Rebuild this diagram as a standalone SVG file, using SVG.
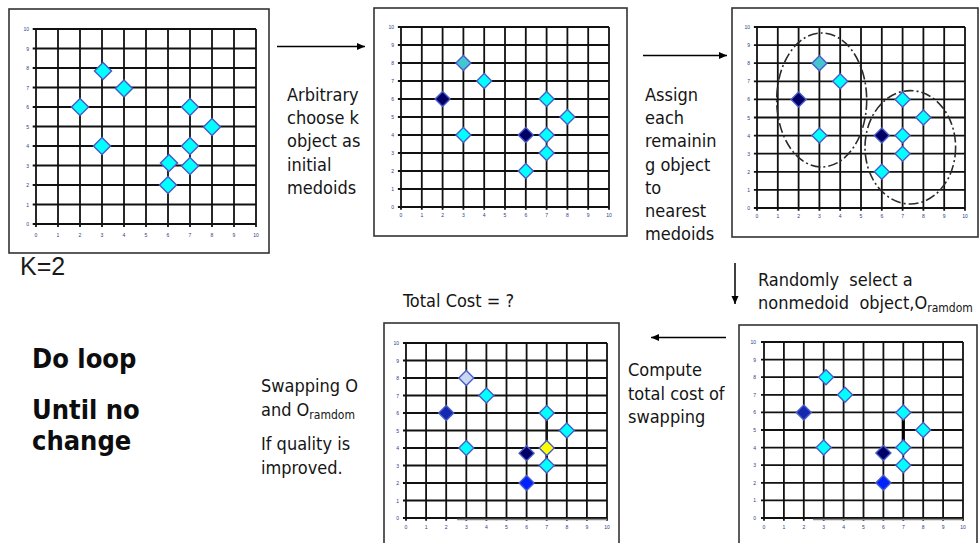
<svg xmlns="http://www.w3.org/2000/svg" xmlns:xlink="http://www.w3.org/1999/xlink" width="979" height="543" viewBox="0 0 979 543">
  <style>
    .frame { fill: #ffffff; stroke: #333333; stroke-width: 1.6; }
    .tick { font-family: "Liberation Sans", Arial, sans-serif; font-size: 5px; fill: #2a3a8a; }
    .tx { text-anchor: middle; }
    .ty { text-anchor: end; }
    .lbl { font-family: "DejaVu Sans Condensed", "DejaVu Sans", sans-serif; font-stretch: condensed; font-size: 18px; fill: #151515; }
    .sub { font-size: 12px; }
    .big { font-family: "DejaVu Sans Condensed", "DejaVu Sans", sans-serif; font-stretch: condensed; font-weight: bold; font-size: 27px; fill: #0d0d0d; }
    .k { font-family: "Liberation Sans", Arial, sans-serif; font-size: 25px; fill: #1a1a1a; }
    .cy { fill: #00ffff; }
    .nv { fill: #000066; }
    .tl { fill: #44c6cf; }
    .bl { fill: #1428b0; }
    .br { fill: #0022ff; }
    .lt { fill: #c9d8ee; }
    .yl { fill: #ffff00; }
    .conn { stroke: #000000; stroke-width: 1.5; fill: none; }
    .clus { fill: none; stroke: #2a2a2a; stroke-width: 1.6; stroke-dasharray: 10 3 2 3; }
  </style>
  <defs>
    <!-- 10x10 chart grid in unit coordinates, y pointing up; ticks stick out past the axes -->
    <path id="grid" d="M0,-0.15V10M1,-0.15V10M2,-0.15V10M3,-0.15V10M4,-0.15V10M5,-0.15V10M6,-0.15V10M7,-0.15V10M8,-0.15V10M9,-0.15V10M10,-0.15V10M-0.15,0H10M-0.15,1H10M-0.15,2H10M-0.15,3H10M-0.15,4H10M-0.15,5H10M-0.15,6H10M-0.15,7H10M-0.15,8H10M-0.15,9H10M-0.15,10H10" fill="none" stroke="#111111" stroke-width="1.8" vector-effect="non-scaling-stroke"/>
    <path id="dm" d="M0,-7.5L7.5,0L0,7.5L-7.5,0Z" stroke="#4a5cc8" stroke-width="1.4"/>
    <path id="dmL" d="M0,-8.5L8.5,0L0,8.5L-8.5,0Z" stroke="#4a5cc8" stroke-width="1.5"/>
    <marker id="ah" markerUnits="userSpaceOnUse" markerWidth="9" markerHeight="8" refX="8" refY="4" orient="auto">
      <path d="M0,0.5L8,4L0,7.5Z" fill="#000000"/>
    </marker>
  </defs>

  <!-- chart 1: the raw data set -->
  <g id="chart-data">
    <rect class="frame" x="9" y="9" width="260" height="244" stroke-width="2" stroke="#111"/>
    <use xlink:href="#grid" transform="translate(36,224) scale(22,-19.5)"/>
    <g class="tick tx">
      <text x="36" y="237">0</text><text x="58" y="237">1</text><text x="80" y="237">2</text><text x="102" y="237">3</text><text x="124" y="237">4</text><text x="146" y="237">5</text><text x="168" y="237">6</text><text x="190" y="237">7</text><text x="212" y="237">8</text><text x="234" y="237">9</text><text x="256" y="237">10</text>
    </g>
    <g class="tick ty">
      <text x="29" y="226">0</text><text x="29" y="206.5">1</text><text x="29" y="187">2</text><text x="29" y="167.5">3</text><text x="29" y="148">4</text><text x="29" y="128.5">5</text><text x="29" y="109">6</text><text x="29" y="89.5">7</text><text x="29" y="70">8</text><text x="29" y="50.5">9</text><text x="29" y="31">10</text>
    </g>
    <use xlink:href="#dmL" class="cy" x="103" y="71"/>
    <use xlink:href="#dmL" class="cy" x="124" y="88.5"/>
    <use xlink:href="#dmL" class="cy" x="80" y="107"/>
    <use xlink:href="#dmL" class="cy" x="102" y="146"/>
    <use xlink:href="#dmL" class="cy" x="190" y="107"/>
    <use xlink:href="#dmL" class="cy" x="212" y="127"/>
    <use xlink:href="#dmL" class="cy" x="190" y="146"/>
    <use xlink:href="#dmL" class="cy" x="169" y="163"/>
    <use xlink:href="#dmL" class="cy" x="190" y="166"/>
    <use xlink:href="#dmL" class="cy" x="168" y="185"/>
  </g>
  <text class="k" x="20" y="275">K=2</text>

  <!-- chart 2: two medoids picked -->
  <g id="chart-init">
    <rect class="frame" x="374" y="8" width="253" height="228"/>
    <use xlink:href="#grid" transform="translate(401,207) scale(20.8,-18)"/>
    <g class="tick tx">
      <text x="401" y="217">0</text><text x="421.8" y="217">1</text><text x="442.6" y="217">2</text><text x="463.4" y="217">3</text><text x="484.2" y="217">4</text><text x="505" y="217">5</text><text x="525.8" y="217">6</text><text x="546.6" y="217">7</text><text x="567.4" y="217">8</text><text x="588.2" y="217">9</text><text x="609" y="217">10</text>
    </g>
    <g class="tick ty">
      <text x="394" y="209">0</text><text x="394" y="191">1</text><text x="394" y="173">2</text><text x="394" y="155">3</text><text x="394" y="137">4</text><text x="394" y="119">5</text><text x="394" y="101">6</text><text x="394" y="83">7</text><text x="394" y="65">8</text><text x="394" y="47">9</text><text x="394" y="29">10</text>
    </g>
    <use xlink:href="#dm" class="nv" x="442.6" y="99"/>
    <use xlink:href="#dm" class="tl" x="463.4" y="63"/>
    <use xlink:href="#dm" class="cy" x="484.2" y="81"/>
    <use xlink:href="#dm" class="cy" x="463.4" y="135"/>
    <use xlink:href="#dm" class="nv" x="525.8" y="135"/>
    <use xlink:href="#dm" class="cy" x="546.6" y="99"/>
    <use xlink:href="#dm" class="cy" x="567.4" y="117"/>
    <use xlink:href="#dm" class="cy" x="546.6" y="135"/>
    <use xlink:href="#dm" class="cy" x="546.6" y="153"/>
    <use xlink:href="#dm" class="cy" x="525.8" y="171"/>
  </g>

  <!-- chart 3: objects assigned to the nearest medoid -->
  <g id="chart-assign">
    <rect class="frame" x="732" y="8" width="246" height="229"/>
    <use xlink:href="#grid" transform="translate(757,208) scale(20.8,-18.1)"/>
    <g class="tick tx">
      <text x="757" y="218">0</text><text x="777.8" y="218">1</text><text x="798.6" y="218">2</text><text x="819.4" y="218">3</text><text x="840.2" y="218">4</text><text x="861" y="218">5</text><text x="881.8" y="218">6</text><text x="902.6" y="218">7</text><text x="923.4" y="218">8</text><text x="944.2" y="218">9</text><text x="965" y="218">10</text>
    </g>
    <g class="tick ty">
      <text x="750" y="210">0</text><text x="750" y="191.9">1</text><text x="750" y="173.8">2</text><text x="750" y="155.7">3</text><text x="750" y="137.6">4</text><text x="750" y="119.5">5</text><text x="750" y="101.4">6</text><text x="750" y="83.3">7</text><text x="750" y="65.2">8</text><text x="750" y="47.1">9</text><text x="750" y="29">10</text>
    </g>
    <ellipse class="clus" cx="821.7" cy="100" rx="45" ry="67"/>
    <ellipse class="clus" cx="910.3" cy="147.3" rx="45.3" ry="56.7"/>
    <use xlink:href="#dm" class="nv" x="798.6" y="99.4"/>
    <use xlink:href="#dm" class="tl" x="819.4" y="63.2"/>
    <use xlink:href="#dm" class="cy" x="840.2" y="81.3"/>
    <use xlink:href="#dm" class="cy" x="819.4" y="135.6"/>
    <use xlink:href="#dm" class="nv" x="881.8" y="135.6"/>
    <use xlink:href="#dm" class="cy" x="902.6" y="99.4"/>
    <use xlink:href="#dm" class="cy" x="923.4" y="117.5"/>
    <use xlink:href="#dm" class="cy" x="902.6" y="135.6"/>
    <use xlink:href="#dm" class="cy" x="902.6" y="153.7"/>
    <use xlink:href="#dm" class="cy" x="881.8" y="171.8"/>
  </g>

  <!-- chart 4: a random non-medoid chosen -->
  <g id="chart-random">
    <rect class="frame" x="739" y="325" width="238" height="230"/>
    <use xlink:href="#grid" transform="translate(764,518) scale(19.9,-17.6)"/>
    <line x1="813" y1="519.5" x2="963" y2="519.5" stroke="#8a8a8a" stroke-width="1.5"/>
    <g class="tick tx">
      <text x="764" y="529">0</text><text x="783.9" y="529">1</text><text x="803.8" y="529">2</text><text x="823.7" y="529">3</text><text x="843.6" y="529">4</text><text x="863.5" y="529">5</text><text x="883.4" y="529">6</text><text x="903.3" y="529">7</text><text x="923.2" y="529">8</text><text x="943.1" y="529">9</text><text x="963" y="529">10</text>
    </g>
    <g class="tick ty">
      <text x="756" y="520">0</text><text x="756" y="502.4">1</text><text x="756" y="484.8">2</text><text x="756" y="467.2">3</text><text x="756" y="449.6">4</text><text x="756" y="432">5</text><text x="756" y="414.4">6</text><text x="756" y="396.8">7</text><text x="756" y="379.2">8</text><text x="756" y="361.6">9</text><text x="756" y="344">10</text>
    </g>
    <line x1="903.3" y1="412.4" x2="903.3" y2="447.6" stroke="#000" stroke-width="3.2"/>
    <use xlink:href="#dm" class="bl" x="803.8" y="412.4"/>
    <use xlink:href="#dm" class="cy" x="826" y="377.2"/>
    <use xlink:href="#dm" class="cy" x="845" y="394.8"/>
    <use xlink:href="#dm" class="cy" x="823.7" y="447.6"/>
    <use xlink:href="#dm" class="cy" x="903.3" y="412.4"/>
    <use xlink:href="#dm" class="cy" x="923.2" y="430"/>
    <use xlink:href="#dm" class="cy" x="903.3" y="447.6"/>
    <use xlink:href="#dm" class="cy" x="903.3" y="465.2"/>
    <use xlink:href="#dm" class="nv" x="883.4" y="452.9"/>
    <use xlink:href="#dm" class="br" x="883.4" y="482.8"/>
  </g>

  <!-- chart 5: cost of the swap -->
  <g id="chart-swap">
    <rect class="frame" x="384" y="323" width="235" height="232"/>
    <use xlink:href="#grid" transform="translate(406,518) scale(20.1,-17.5)"/>
    <line x1="457" y1="519.5" x2="607" y2="519.5" stroke="#8a8a8a" stroke-width="1.5"/>
    <g class="tick tx">
      <text x="406" y="529">0</text><text x="426.1" y="529">1</text><text x="446.2" y="529">2</text><text x="466.3" y="529">3</text><text x="486.4" y="529">4</text><text x="506.5" y="529">5</text><text x="526.6" y="529">6</text><text x="546.7" y="529">7</text><text x="566.8" y="529">8</text><text x="586.9" y="529">9</text><text x="607" y="529">10</text>
    </g>
    <g class="tick ty">
      <text x="399" y="520">0</text><text x="399" y="502.5">1</text><text x="399" y="485">2</text><text x="399" y="467.5">3</text><text x="399" y="450">4</text><text x="399" y="432.5">5</text><text x="399" y="415">6</text><text x="399" y="397.5">7</text><text x="399" y="380">8</text><text x="399" y="362.5">9</text><text x="399" y="345">10</text>
    </g>
    <line x1="546.7" y1="413" x2="546.7" y2="465.5" stroke="#111" stroke-width="2.4"/>
    <use xlink:href="#dm" class="bl" x="446.2" y="413"/>
    <use xlink:href="#dm" class="lt" x="466.3" y="378"/>
    <use xlink:href="#dm" class="cy" x="486.4" y="395.5"/>
    <use xlink:href="#dm" class="cy" x="466.3" y="448"/>
    <use xlink:href="#dm" class="cy" x="546.7" y="413"/>
    <use xlink:href="#dm" class="cy" x="566.8" y="430.5"/>
    <use xlink:href="#dm" class="yl" x="546.7" y="448"/>
    <use xlink:href="#dm" class="cy" x="546.7" y="465.5"/>
    <use xlink:href="#dm" class="nv" x="526.6" y="453.3"/>
    <use xlink:href="#dm" class="br" x="526.6" y="483"/>
  </g>

  <!-- flow arrows between the steps -->
  <g id="connectors">
    <line class="conn" x1="277" y1="46.5" x2="365" y2="46.5" marker-end="url(#ah)"/>
    <line class="conn" x1="643" y1="55.5" x2="727" y2="55.5" marker-end="url(#ah)"/>
    <line class="conn" x1="735" y1="263" x2="735" y2="304" marker-end="url(#ah)"/>
    <line class="conn" x1="726" y1="337.5" x2="651" y2="337.5" marker-end="url(#ah)"/>
  </g>

  <!-- step captions -->
  <g id="label-choose" class="lbl">
    <text x="287" y="101">Arbitrary</text>
    <text x="287" y="124.2">choose k</text>
    <text x="287" y="147.4">object as</text>
    <text x="287" y="170.6">initial</text>
    <text x="287" y="193.8">medoids</text>
  </g>
  <g id="label-assign" class="lbl">
    <text x="645" y="101">Assign</text>
    <text x="645" y="124.2">each</text>
    <text x="645" y="147.4">remainin</text>
    <text x="645" y="170.6">g object</text>
    <text x="645" y="193.8">to</text>
    <text x="645" y="217">nearest</text>
    <text x="645" y="240.2">medoids</text>
  </g>
  <g id="label-random" class="lbl">
    <text x="758" y="285.5" xml:space="preserve">Randomly  select a</text>
    <text x="758" y="309" xml:space="preserve">nonmedoid  object,O<tspan class="sub" dy="3">ramdom</tspan></text>
  </g>
  <g id="label-total" class="lbl">
    <text x="403" y="307">Total Cost = ?</text>
  </g>
  <g id="label-compute" class="lbl">
    <text x="628" y="376">Compute</text>
    <text x="628" y="399.5">total cost of</text>
    <text x="628" y="422.5">swapping</text>
  </g>
  <g id="label-swap" class="lbl">
    <text x="261" y="391.5">Swapping O</text>
    <text x="261" y="416">and O<tspan class="sub" dy="2.5">ramdom</tspan></text>
    <text x="261" y="450">If quality is</text>
    <text x="261" y="473.5">improved.</text>
  </g>
  <g id="label-loop" class="big">
    <text x="32" y="368">Do loop</text>
    <text x="32" y="419">Until no</text>
    <text x="32" y="450">change</text>
  </g>
</svg>
